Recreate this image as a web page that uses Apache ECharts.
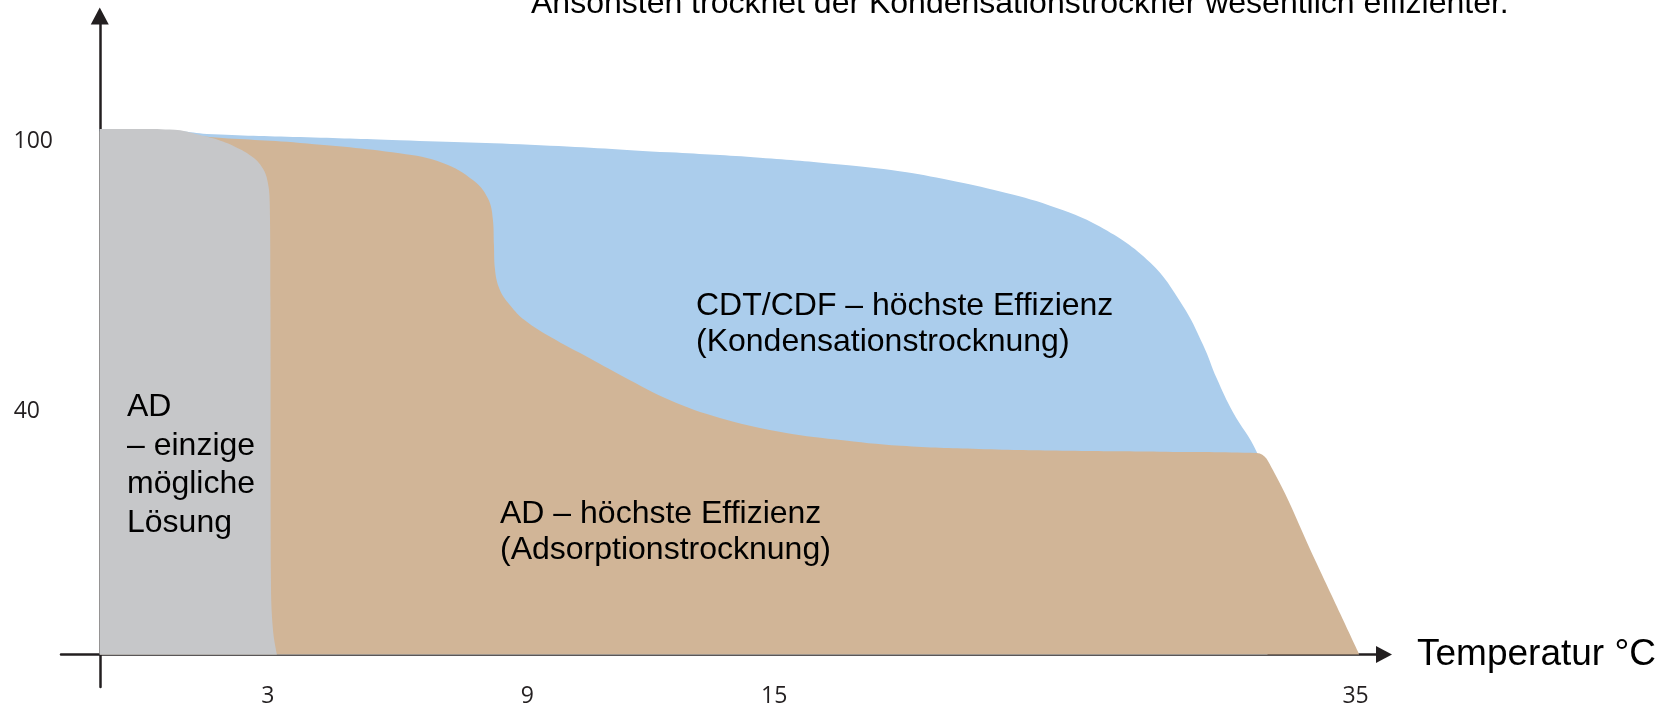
<!DOCTYPE html>
<html>
<head>
<meta charset="utf-8">
<script src="https://cdn.jsdelivr.net/npm/echarts@6/dist/echarts.min.js"></script>
<style>
html,body{margin:0;padding:0;background:#fff;}
#chart{width:1675px;height:706px;}
</style>
</head>
<body>
<div id="chart"></div>
<script>
// x: schematic position along the temperature axis (the drawing is not linear in °C)
// y: relative humidity in %
const xTickPositions = [13.0, 33.1, 52.2, 97.2];
const xTickLabels = ['3', '9', '15', '35'];
const yTickValues = [40, 100];
const baseRH = -14; // level where the temperature axis is drawn

// upper edge of the grey zone (AD – only possible solution)
const grayEdge = [
  [0, 102.8], [3.1, 102.8], [5.8, 102.6], [7.4, 101.7], [8.9, 100.6], [10.5, 98.8],
  [11.8, 96.6], [12.6, 94.1], [13.0, 91.0], [13.16, 85.9], [13.21, 64.8],
  [13.25, 2.6], [13.41, -8.6], [13.72, -14]
];

// upper edge of the tan zone (AD – highest efficiency)
const tanEdge = [
  [0, 102.3], [6.2, 101.9], [8.5, 101.0], [15.5, 99.7], [23.2, 97.4], [26.6, 95.2],
  [28.9, 91.4], [30.04, 87.4], [30.43, 82.6], [30.51, 77.0], [30.58, 71.9],
  [30.97, 67.0], [31.74, 63.7], [32.9, 60.3], [35.0, 56.4], [37.5, 52.5], [40.5, 47.8],
  [44.1, 42.6], [48.0, 38.6], [52.5, 35.6], [57.0, 33.8], [62.0, 32.4], [68.0, 31.7],
  [75.0, 31.3], [82.0, 31.1], [89.55, 30.8], [90.8, 27.0], [94.1, 6.8], [97.5, -14]
];

// upper edge of the blue zone (CDT/CDF – highest efficiency)
const blueEdge = [
  [0, 102.8], [6.2, 102.3], [8.3, 101.7], [15.5, 101.0], [23.2, 100.3], [34.1, 99.2],
  [44.1, 97.6], [51.1, 96.4], [57.3, 94.9], [61.9, 93.4], [65.8, 91.4], [69.7, 88.9],
  [73.5, 85.8], [77.4, 81.1], [81.3, 73.1], [83.8, 63.6], [85.4, 54.8],
  [86.45, 47.4], [87.7, 39.9], [89.55, 31.0], [90.0, 24.8], [90.4, -14]
];

const topNote = 'Ansonsten trocknet der Kondensationstrockner wesentlich effizienter.';
const blueLabel = 'CDT/CDF – höchste Effizienz\n(Kondensationstrocknung)';
const tanLabel = 'AD – höchste Effizienz\n(Adsorptionstrocknung)';
const grayLabel = 'AD\n– einzige\nmögliche\nLösung';
const xAxisName = 'Temperatur °C';

const axisColor = '#231f20';
const textFont = '"Liberation Sans", Arial, sans-serif';
const tickFont = '"Open Sans", sans-serif';

function area(data, color) {
  return {
    type: 'line', data: data, smooth: 0.4, symbol: 'none', showSymbol: false,
    silent: true, lineStyle: { width: 0 },
    areaStyle: { color: color, opacity: 1, origin: baseRH }
  };
}

const chart = echarts.init(document.getElementById('chart'), null, { renderer: 'canvas' });
chart.setOption({
  animation: false,
  backgroundColor: '#fff',
  grid: { left: 61, right: 291, top: 16, bottom: 19, outerBoundsMode: 'none', containLabel: false },
  xAxis: {
    type: 'value', min: -3, max: 99.4,
    offset: -32.4,
    name: xAxisName, nameLocation: 'end', nameGap: 33,
    nameTextStyle: { fontSize: 37, fontFamily: textFont, color: '#000', verticalAlign: 'middle' },
    axisLine: { show: true, onZero: false, symbol: ['none', 'triangle'], symbolSize: [17, 16],
      lineStyle: { color: axisColor, width: 2.5 } },
    axisTick: { show: false },
    splitLine: { show: false },
    axisLabel: {
      customValues: xTickPositions, margin: 30,
      fontSize: 23, fontFamily: tickFont, color: axisColor,
      formatter: function (v) {
        const i = xTickPositions.findIndex(function (p) { return Math.abs(p - v) < 1e-6; });
        return i >= 0 ? xTickLabels[i] : '';
      }
    }
  },
  yAxis: {
    type: 'value', min: -21.2, max: 127.9,
    axisLine: { show: true, onZero: true, symbol: ['none', 'triangle'], symbolSize: [18, 17],
      lineStyle: { color: axisColor, width: 2.5 } },
    axisTick: { show: false },
    splitLine: { show: false },
    axisLabel: {
      customValues: yTickValues, margin: 8,
      fontSize: 23, fontFamily: tickFont, color: axisColor,
      formatter: function (v) {
        const s = String(v);
        return '{' + (s.length >= 3 ? 'w' : 'n') + '|' + s + '}';
      },
      rich: {
        w: { fontSize: 23, fontFamily: tickFont, color: axisColor },
        n: { fontSize: 23, fontFamily: tickFont, color: axisColor, padding: [0, 13, 0, 0] }
      }
    }
  },
  series: [
    area(blueEdge, '#abcdec'),
    area(tanEdge, '#d1b597'),
    area(grayEdge, '#c6c7c9')
  ],
  graphic: [
    { type: 'text', x: 531, y: 4, silent: true, z: 100,
      style: { text: topNote, fontSize: 32, fontFamily: textFont, fill: '#000', align: 'left', verticalAlign: 'middle' } },
    { type: 'text', x: 696, y: 288, silent: true, z: 100,
      style: { text: blueLabel, fontSize: 32, fontFamily: textFont, fill: '#000', lineHeight: 36, align: 'left', verticalAlign: 'top' } },
    { type: 'text', x: 500, y: 496, silent: true, z: 100,
      style: { text: tanLabel, fontSize: 32, fontFamily: textFont, fill: '#000', lineHeight: 36, align: 'left', verticalAlign: 'top' } },
    { type: 'text', x: 127, y: 388, silent: true, z: 100,
      style: { text: grayLabel, fontSize: 32, fontFamily: textFont, fill: '#000', lineHeight: 38.5, align: 'left', verticalAlign: 'top' } }
  ]
});
</script>
</body>
</html>
